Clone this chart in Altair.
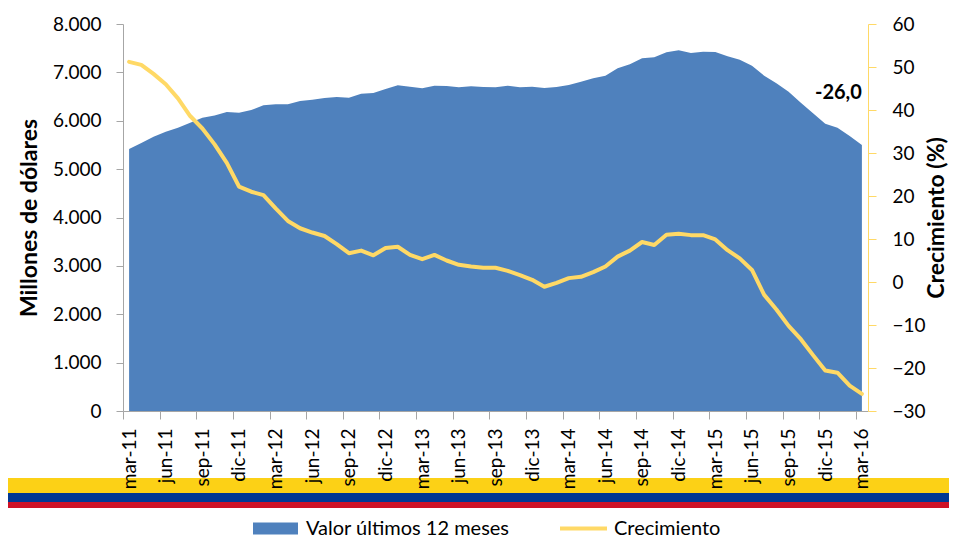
import altair as alt
import pandas as pd

meses = ["ene", "feb", "mar", "abr", "may", "jun", "jul", "ago", "sep", "oct", "nov", "dic"]
periodos = [f"{meses[(2 + i) % 12]}-{11 + (2 + i) // 12}" for i in range(61)]

valor = [5415, 5540, 5670, 5773, 5856, 5960, 6063, 6110, 6180, 6166, 6222, 6318, 6340, 6340, 6407,
         6435, 6470, 6490, 6477, 6560, 6573, 6656, 6732, 6704, 6670, 6725, 6718, 6690, 6711, 6697,
         6690, 6725, 6690, 6704, 6677, 6697, 6739, 6808, 6877, 6932, 7084, 7166, 7290, 7311, 7414, 7456,
         7400, 7427, 7420, 7331, 7262, 7138, 6932, 6773, 6601, 6374, 6153, 5940, 5856, 5684, 5498]

crecimiento = [51.2, 50.5, 48.4, 46.0, 42.7, 38.6, 35.7, 32.0, 27.7, 22.2, 21.0, 20.2, 17.1, 14.2, 12.5,
               11.5, 10.7, 8.8, 6.7, 7.3, 6.2, 7.9, 8.2, 6.3, 5.3, 6.3, 5.0, 4.0, 3.6, 3.3,
               3.3, 2.6, 1.6, 0.5, -1.1, -0.2, 0.9, 1.2, 2.3, 3.6, 5.9, 7.3, 9.3, 8.6, 11.0, 11.2,
               10.9, 10.9, 9.9, 7.4, 5.5, 2.8, -3.0, -6.4, -10.2, -13.3, -17.0, -20.6, -21.1, -24.1, -26.0]

serie_area = "Valor últimos 12 meses"
serie_linea = "Crecimiento"

df = pd.DataFrame({
    "idx": list(range(len(periodos))),
    "periodo": periodos,
    "valor": valor,
    "crec": crecimiento,
    "s1": serie_area,
    "s2": serie_linea,
})
last = df.tail(1).copy()
last["etiqueta"] = f"{crecimiento[-1]:.1f}".replace(".", ",")

tick_vals = [i - 0.5 for i in range(0, len(periodos), 3)]
tick_labels = [periodos[i] for i in range(0, len(periodos), 3)]
label_expr = "[" + ",".join(f"'{t}'" for t in tick_labels) + "][round((datum.value + 0.5) / 3)]"

FONT = "Lato"
AZUL = "#4F81BD"
AMARILLO = "#FFD966"
GRIS = "#A6A6A6"

x_enc = alt.X(
    "idx:Q",
    scale=alt.Scale(domain=[-0.5, 60.5], nice=False, zero=False),
    axis=alt.Axis(
        values=tick_vals, labelExpr=label_expr, labelAngle=-90, labelOffset=6,
        tickSize=8, labelPadding=9, domainColor=GRIS, tickColor=GRIS,
        labelFont=FONT, labelFontSize=19, labelColor="black", title=None,
        grid=False, labelOverlap=False, labelFlush=False, zindex=1,
    ),
)

area = alt.Chart(df).mark_area(opacity=1).encode(
    x=x_enc,
    y=alt.Y(
        "valor:Q",
        scale=alt.Scale(domain=[0, 8000], nice=False),
        axis=alt.Axis(
            values=list(range(0, 8001, 1000)),
            labelExpr="replace(format(datum.value, ','), ',', '.')",
            tickSize=7, labelPadding=15, domainColor=GRIS, tickColor=GRIS,
            labelFont=FONT, labelFontSize=19, labelColor="black",
            title="Millones de dólares", titleFont=FONT, titleFontSize=23,
            titleFontWeight="bold", titleColor="black", titlePadding=11,
            grid=False, zindex=1,
        ),
    ),
    fill=alt.Fill(
        "s1:N",
        scale=alt.Scale(domain=[serie_area], range=[AZUL]),
        legend=alt.Legend(
            orient="none", legendX=130, legendY=482, title=None,
            symbolType="M-1,-0.27H1V0.27H-1Z", symbolSize=2025, symbolStrokeWidth=0,
            symbolOpacity=1, labelFont=FONT, labelFontSize=20, labelColor="black",
            labelOffset=8, labelLimit=0, padding=0,
        ),
    ),
)

linea = alt.Chart(df).mark_line(strokeWidth=4, strokeJoin="round", strokeCap="round").encode(
    x=x_enc,
    y=alt.Y(
        "crec:Q",
        scale=alt.Scale(domain=[-30, 60], nice=False, zero=False),
        axis=alt.Axis(
            orient="right", values=list(range(-30, 61, 10)),
            tickSize=8, labelPadding=16, domainColor=AMARILLO, tickColor=AMARILLO,
            labelFont=FONT, labelFontSize=19, labelColor="black",
            title="Crecimiento (%)", titleFont=FONT, titleFontSize=23,
            titleFontWeight="bold", titleColor="black", titleAngle=270, titlePadding=23,
            grid=False, zindex=1,
        ),
    ),
    stroke=alt.Stroke(
        "s2:N",
        scale=alt.Scale(domain=[serie_linea], range=[AMARILLO]),
        legend=alt.Legend(
            orient="none", legendX=435, legendY=479, title=None,
            symbolType="stroke", symbolSize=2209, symbolStrokeWidth=4,
            labelFont=FONT, labelFontSize=20, labelColor="black",
            labelOffset=5, labelLimit=0, padding=0,
        ),
    ),
)

texto = alt.Chart(last).mark_text(
    font=FONT, fontSize=20, fontWeight="bold", align="right", baseline="middle", color="black"
).encode(
    x=x_enc,
    y=alt.value(69),
    text="etiqueta:N",
)

uno = pd.DataFrame({"k": [0]})
franja_amarilla = alt.Chart(uno).mark_rect(color="#FCD116").encode(
    x=alt.value(-115), x2=alt.value(826), y=alt.value(454), y2=alt.value(469)
)
franja_azul = alt.Chart(uno).mark_rect(color="#003893").encode(
    x=alt.value(-115), x2=alt.value(826), y=alt.value(469), y2=alt.value(478)
)
franja_roja = alt.Chart(uno).mark_rect(color="#CE1126").encode(
    x=alt.value(-115), x2=alt.value(826), y=alt.value(478), y2=alt.value(484)
)

chart = alt.layer(
    franja_amarilla, franja_azul, franja_roja, area, linea, texto
).resolve_scale(
    y="independent"
).properties(
    width=745, height=387,
    padding={"left": 115, "top": 16, "right": 81, "bottom": 127},
    autosize=alt.AutoSizeParams(type="none"),
    background="white",
).configure_view(stroke=None)

chart.save("out.html", embed_options={"renderer": "svg", "actions": False})
